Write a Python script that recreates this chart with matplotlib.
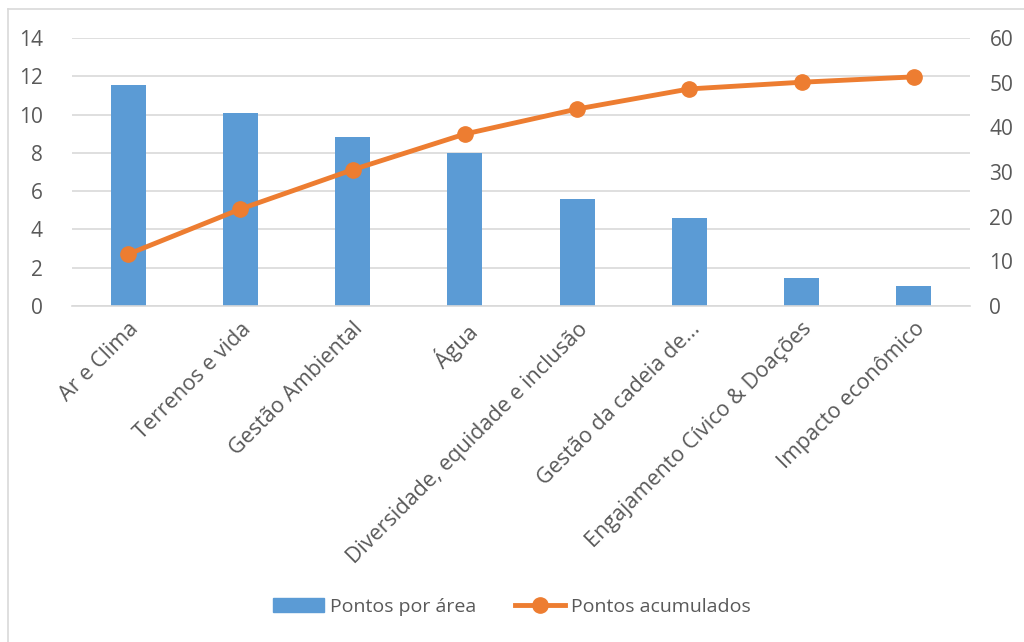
import matplotlib.pyplot as plt
from matplotlib.lines import Line2D

# dados
areas = ["Ar e Clima", "Terrenos e vida", "Gestão Ambiental", "Água",
         "Diversidade, equidade e inclusão", "Gestão da cadeia de...",
         "Engajamento Cívico & Doações", "Impacto econômico"]
pontos = [11.55, 10.08, 8.84, 7.99, 5.59, 4.60, 1.46, 1.04]
acumulados = [11.6, 21.7, 30.5, 38.5, 44.1, 48.6, 50.1, 51.3]

azul = "#5B9BD5"
laranja = "#ED7D31"
cinza = "#595959"

plt.rcParams["font.family"] = ["Open Sans", "DejaVu Sans"]

fig = plt.figure(figsize=(10.24, 6.42), dpi=100)
ax = fig.add_axes([72 / 1024, 1 - 306 / 642, (970 - 72) / 1024, (306 - 38) / 642])
ax2 = ax.twinx()

x = list(range(len(areas)))
ax.bar(x, pontos, width=0.31, color=azul, zorder=2)
ax2.plot(x, acumulados, color=laranja, linewidth=3.5, marker="o", markersize=11,
         solid_capstyle="round", zorder=3)

ax.set_xlim(-0.5, len(areas) - 0.5)
ax.set_ylim(0, 14)
ax.set_yticks(range(0, 15, 2))
ax2.set_ylim(0, 60)
ax2.set_yticks(range(0, 61, 10))

ax.yaxis.grid(True, color="#D9D9D9", linewidth=1.2, zorder=0)
ax.set_axisbelow(True)
for a in (ax, ax2):
    for s in a.spines.values():
        s.set_visible(False)
    a.tick_params(length=0, labelsize=15, colors=cinza)
ax.spines["bottom"].set_visible(True)
ax.spines["bottom"].set_color("#D9D9D9")
ax.spines["bottom"].set_linewidth(1.2)
ax.tick_params(axis="y", pad=21)
ax2.tick_params(axis="y", pad=14)

ax.set_xticks(x)
ax.set_xticklabels(areas, rotation=45, ha="right", rotation_mode="anchor")
ax.tick_params(axis="x", pad=9, labelsize=15.5)

# moldura
fig.add_artist(Line2D([8 / 1024, 8 / 1024], [0, 1 - 9 / 642], color="#D9D9D9", lw=1.2))
fig.add_artist(Line2D([8 / 1024, 1], [1 - 9 / 642, 1 - 9 / 642], color="#D9D9D9", lw=1.2))

handles = [plt.Rectangle((0, 0), 1, 1, color=azul),
           Line2D([], [], color=laranja, lw=3.5, marker="o", markersize=11)]
fig.legend(handles, ["Pontos por área", "Pontos acumulados"], loc="center",
           bbox_to_anchor=(0.5, 1 - 607 / 642), ncol=2, frameon=False,
           fontsize=14, labelcolor=cinza, handlelength=2.6, handletextpad=0.3,
           columnspacing=2.0)

fig.savefig("out.png", dpi=100, facecolor="white")
